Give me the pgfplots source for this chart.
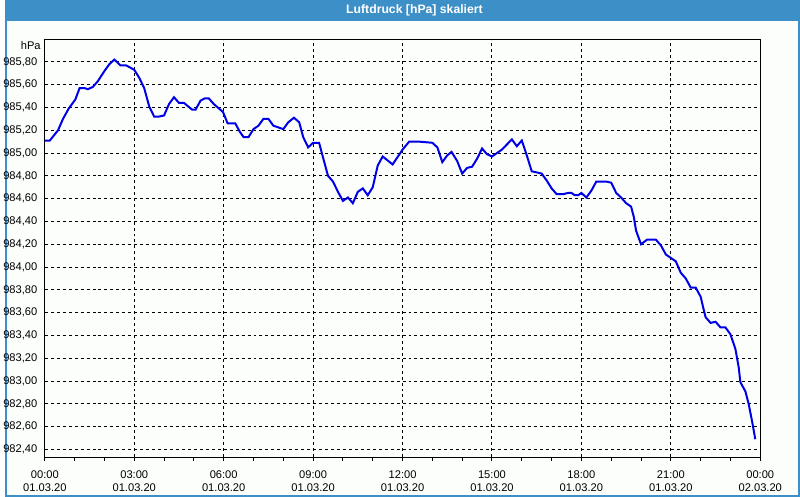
\documentclass[border=0pt]{standalone}
\usepackage{fontspec}
\setmainfont{Liberation Sans}
\usepackage{pgfplots}
\pgfplotsset{compat=1.18}

\definecolor{framebl}{RGB}{60,143,199}
\definecolor{panelbg}{RGB}{252,254,252}
\definecolor{curvebl}{RGB}{0,0,230}

\begin{document}
\begin{tikzpicture}[x=1pt,y=1pt]
% window frame and title bar
\fill[framebl] (0,0) rectangle (800,500);
\fill[panelbg] (2,2) rectangle (798,479);
\node[text=white, font=\bfseries\fontsize{12.3}{14}\selectfont] at (412,489.5) {Luftdruck [hPa] skaliert};

\begin{axis}[
    name=chart,
    at={(40pt,40pt)}, anchor=south west,
    scale only axis, width=720pt, height=420pt,
    xmin=0, xmax=24, ymin=982.333, ymax=985.994,
    axis line style={black, line width=1pt},
    xtick={0,3,6,9,12,15,18,21,24},
    xticklabels={{00:00\\01.03.20},{03:00\\01.03.20},{06:00\\01.03.20},{09:00\\01.03.20},{12:00\\01.03.20},{15:00\\01.03.20},{18:00\\01.03.20},{21:00\\01.03.20},{00:00\\02.03.20}},
    minor x tick num=2,
    ytick={982.4,982.6,982.8,983.0,983.2,983.4,983.6,983.8,984.0,984.2,984.4,984.6,984.8,985.0,985.2,985.4,985.6,985.8},
    yticklabels={982{,}40,982{,}60,982{,}80,983{,}00,983{,}20,983{,}40,983{,}60,983{,}80,984{,}00,984{,}20,984{,}40,984{,}60,984{,}80,985{,}00,985{,}20,985{,}40,985{,}60,985{,}80},
    xmajorgrids, ymajorgrids,
    major grid style={black, line width=1pt, dash pattern=on 3pt off 3pt},
    tick align=outside,
    xtick pos=bottom, ytick pos=left,
    major x tick style={black, line width=1pt},
    minor x tick style={black, line width=1pt},
    y tick style={draw=none},
    major tick length=4pt, minor tick length=4pt,
    yticklabel style={font=\fontsize{11.2}{13}\selectfont, text=black},
    xticklabel style={font=\fontsize{11.2}{13}\selectfont, text=black, align=center, yshift=-6pt},
    /pgf/number format/assume math mode=true,
]
\addplot[curvebl, line width=2pt, sharp plot, mark=none] table[x=h, y=p] {
h p
0.000 985.11
0.167 985.11
0.443 985.20
0.610 985.30
0.800 985.39
1.023 985.47
1.167 985.57
1.333 985.57
1.443 985.56
1.610 985.58
1.777 985.63
2.000 985.72
2.167 985.78
2.333 985.82
2.533 985.77
2.723 985.77
3.000 985.73
3.167 985.66
3.333 985.57
3.500 985.41
3.667 985.32
3.833 985.32
4.000 985.33
4.167 985.43
4.333 985.49
4.500 985.44
4.667 985.44
4.943 985.38
5.057 985.38
5.223 985.46
5.367 985.48
5.500 985.48
5.667 985.43
5.977 985.36
6.133 985.26
6.390 985.26
6.533 985.19
6.667 985.14
6.833 985.14
7.000 985.21
7.167 985.24
7.333 985.30
7.500 985.30
7.667 985.24
8.000 985.21
8.167 985.27
8.357 985.31
8.533 985.27
8.667 985.14
8.833 985.05
9.000 985.09
9.200 985.09
9.333 984.96
9.500 984.80
9.667 984.75
9.833 984.66
10.000 984.58
10.167 984.61
10.333 984.56
10.500 984.66
10.667 984.69
10.833 984.63
11.000 984.70
11.167 984.89
11.333 984.97
11.667 984.90
12.000 985.03
12.223 985.10
12.557 985.10
13.000 985.09
13.167 985.05
13.333 984.92
13.500 984.98
13.643 985.01
13.833 984.93
14.000 984.82
14.167 984.87
14.333 984.88
14.500 984.95
14.667 985.04
14.833 984.99
15.000 984.97
15.167 985.00
15.333 985.03
15.667 985.12
15.833 985.06
16.000 985.11
16.167 984.98
16.333 984.84
16.667 984.82
16.833 984.76
17.000 984.69
17.167 984.64
17.390 984.64
17.557 984.65
17.667 984.65
17.777 984.63
17.890 984.63
18.000 984.65
18.167 984.61
18.333 984.67
18.500 984.75
18.833 984.75
19.000 984.74
19.167 984.65
19.333 984.61
19.500 984.56
19.667 984.53
19.757 984.44
19.833 984.32
20.000 984.20
20.200 984.24
20.500 984.24
20.667 984.19
20.833 984.11
21.000 984.08
21.167 984.05
21.333 983.95
21.500 983.90
21.667 983.82
21.833 983.82
22.000 983.74
22.090 983.64
22.167 983.56
22.333 983.51
22.500 983.52
22.667 983.47
22.833 983.47
23.000 983.41
23.167 983.28
23.277 983.12
23.333 982.99
23.500 982.91
23.610 982.80
23.723 982.65
23.833 982.49
};
\end{axis}
\node[anchor=north east, inner sep=0pt, font=\fontsize{11.2}{13}\selectfont] at ([xshift=-4pt,yshift=-2pt]chart.north west) {hPa};
\useasboundingbox (0,0) rectangle (800,500);
\end{tikzpicture}
\end{document}
